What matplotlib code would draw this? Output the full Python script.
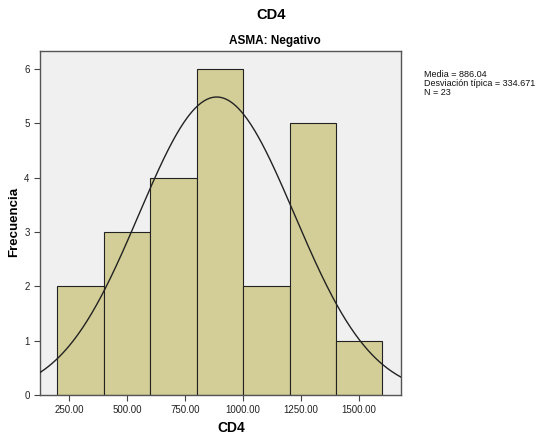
import numpy as np
import matplotlib
matplotlib.use("Agg")
import matplotlib.pyplot as plt

plt.rcParams['font.family'] = ['Liberation Sans', 'DejaVu Sans']

bin_edges = [200, 400, 600, 800, 1000, 1200, 1400, 1600]
counts = [2, 3, 4, 6, 2, 5, 1]
mean = 886.04
sd = 334.671
n = 23
xticks = [250, 500, 750, 1000, 1250, 1500]
yticks = [0, 1, 2, 3, 4, 5, 6]

fig = plt.figure(figsize=(5.46, 4.41), dpi=100)
ax = fig.add_axes([40/546, 1 - 395/441, 361/546, 344/441])
ax.set_facecolor('#F0F0F0')

lefts = bin_edges[:-1]
widths = np.diff(bin_edges)
ax.bar(lefts, counts, width=widths, align='edge', color='#D3CE97',
       edgecolor='#222222', linewidth=0.8, zorder=2)

xs = np.linspace(125, 1680, 400)
bw = widths[0]
ys = n * bw / (sd * np.sqrt(2 * np.pi)) * np.exp(-0.5 * ((xs - mean) / sd) ** 2)
ax.plot(xs, ys, color='#222222', linewidth=1.0, zorder=3)

ax.set_xlim(125, 1680)
ax.set_ylim(0, 6.33)
ax.set_xticks(xticks)
ax.set_xticklabels([f"{v:.2f}" for v in xticks])
ax.set_yticks(yticks)
ax.tick_params(axis='both', labelsize=7, length=4, width=0.8, color='#444444', labelcolor='#222222', direction='out')
for s in ax.spines.values():
    s.set_color('#555555')
    s.set_linewidth(1.0)

fig.text(231/546, 1 - 428/441, 'CD4', ha='center', va='center', fontsize=10, fontweight='bold')
fig.text(14/546, 1 - 222/441, 'Frecuencia', ha='center', va='center', rotation=90, fontsize=9.5, fontweight='bold')
fig.text(275/546, 1 - 41/441, 'ASMA: Negativo', ha='center', va='center', fontsize=8.5, fontweight='bold')
fig.text(271/546, 1 - 15/441, 'CD4', ha='center', va='center', fontsize=10.5, fontweight='bold')

fig.text(424/546, 1 - 70/441,
         f"Media = {mean:.2f}\nDesviación típica = {sd:.3f}\nN = {n}",
         ha='left', va='top', fontsize=6.5, linespacing=1.0, color='#111111')

fig.savefig('out.png', dpi=100)
